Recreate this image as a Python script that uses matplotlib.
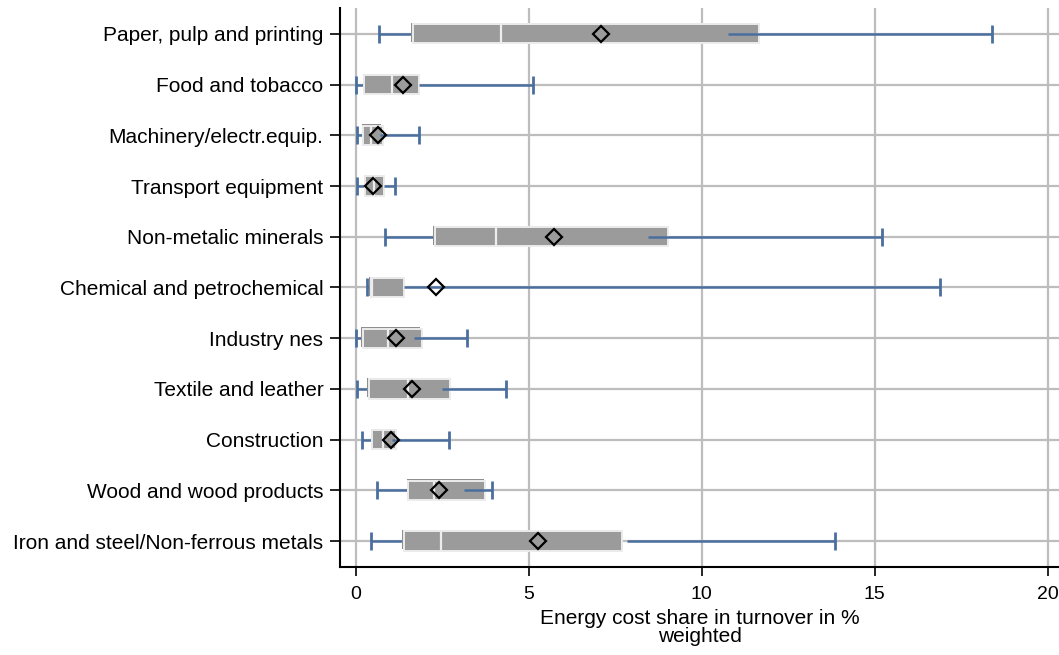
#!/usr/bin/env python3
"""Energy cost share in turnover by sector, weighted box summary (Stata-style)."""

import matplotlib
matplotlib.use("Agg")
import matplotlib.pyplot as plt
import numpy as np

plt.rcParams["font.family"] = ["Liberation Sans", "DejaVu Sans"]

sectors = [
    "Paper, pulp and printing",
    "Food and tobacco",
    "Machinery/electr.equip.",
    "Transport equipment",
    "Non-metalic minerals",
    "Chemical and petrochemical",
    "Industry nes",
    "Textile and leather",
    "Construction",
    "Wood and wood products",
    "Iron and steel/Non-ferrous metals",
]
whisk_lo = [0.68, 0.00, 0.05, 0.05, 0.86, 0.34, 0.00, 0.05, 0.17, 0.62, 0.45]
q1 = [1.65, 0.25, 0.22, 0.28, 2.29, 0.43, 0.20, 0.38, 0.48, 1.52, 1.40]
median = [4.19, 1.06, 0.44, 0.52, 4.07, 0.46, 0.94, 1.52, 0.80, 2.27, 2.46]
q3 = [11.66, 1.83, 0.78, 0.82, 9.04, 1.40, 1.92, 2.73, 1.18, 3.75, 7.69]
upper_start = [10.77, 1.83, 0.70, 0.82, 8.46, 1.40, 1.68, 2.49, 1.05, 3.13, 7.85]
whisk_hi = [18.40, 5.14, 1.84, 1.15, 15.22, 16.90, 3.23, 4.34, 2.71, 3.93, 13.86]
mean = [7.08, 1.36, 0.64, 0.51, 5.72, 2.32, 1.18, 1.64, 1.02, 2.42, 5.27]

BLUE = "#4a6f9f"
GRID = "#bdbdbd"

fig = plt.figure(figsize=(10.59, 6.55), dpi=100)
ax = fig.add_axes([0.321, 0.1344, 0.679, 0.8534])

y = np.arange(len(sectors))
q1a, q3a = np.array(q1), np.array(q3)
box_h = 0.38

# whisker: low cap -> box, then upper segment -> high cap
ax.hlines(y, whisk_lo, q1a, color=BLUE, lw=1.8, zorder=2)
ax.plot(whisk_lo, y, ls="none", marker="|", ms=13, mew=2.0, color=BLUE, zorder=2)

# box with darker shadow edge on top/left
ax.barh(y - 0.025, q3a - q1a, left=q1a - 0.05, height=box_h, color="#8f8f8f",
        zorder=3)
ax.barh(y, q3a - q1a, left=q1a, height=box_h, color="#9b9b9b",
        edgecolor="#ececec", linewidth=1.4, zorder=3)
ax.vlines(median, y - box_h / 2, y + box_h / 2, color="#ededed", lw=1.6,
          zorder=4)

ax.hlines(y, upper_start, whisk_hi, color=BLUE, lw=1.8, zorder=5)
ax.plot(whisk_hi, y, ls="none", marker="|", ms=13, mew=2.0, color=BLUE, zorder=5)

ax.plot(mean, y, ls="none", marker="D", ms=8, mfc="none", mec="black",
        mew=1.6, zorder=6)

ax.set_xlim(-0.454, 20.33)
ax.set_ylim(len(sectors) - 0.49, -0.51)
ax.set_yticks(y)
ax.set_yticklabels(sectors, fontsize=15)
ax.set_xticks([0, 5, 10, 15, 20])
ax.tick_params(axis="x", labelsize=14, length=6.5, width=1.2, pad=7)
ax.tick_params(axis="y", length=7.5, width=1.2, pad=4.5)
ax.set_xlabel("Energy cost share in turnover in %\nweighted", fontsize=15,
              labelpad=4.5, linespacing=0.92)

ax.grid(True, color=GRID, lw=1.6)
ax.set_axisbelow(True)
for side in ("top", "right"):
    ax.spines[side].set_visible(False)
for side in ("left", "bottom"):
    ax.spines[side].set_linewidth(1.5)

fig.savefig("out.png", dpi=100)
